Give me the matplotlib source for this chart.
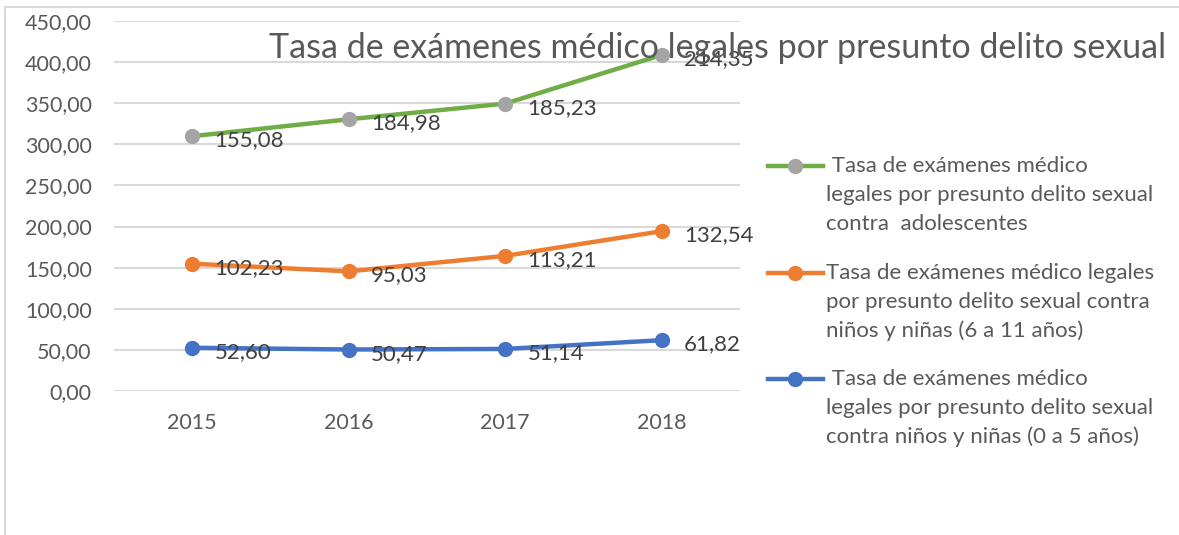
import matplotlib.pyplot as plt
from matplotlib.lines import Line2D
from matplotlib.patches import Rectangle
import numpy as np

plt.rcParams['font.family'] = ['Lato', 'DejaVu Sans']

years = ['2015', '2016', '2017', '2018']
ninos_0_5 = [52.60, 50.47, 51.14, 61.82]
ninos_6_11 = [102.23, 95.03, 113.21, 132.54]
adolescentes = [155.08, 184.98, 185.23, 214.35]

title = 'Tasa de exámenes médico legales por presunto delito sexual'
legend_labels = [
    [' Tasa de exámenes médico', 'legales por presunto delito sexual', 'contra  adolescentes'],
    ['Tasa de exámenes médico legales', 'por presunto delito sexual contra', 'niños y niñas (6 a 11 años)'],
    [' Tasa de exámenes médico', 'legales por presunto delito sexual', 'contra niños y niñas (0 a 5 años)'],
]

W, H = 1179, 535
fig = plt.figure(figsize=(W / 100, H / 100), dpi=100)

# chart frame (Excel style, right/bottom cut off)
fig.add_artist(Rectangle((5 / W, -0.1), 1.2, 1 - 7 / H + 0.1, transform=fig.transFigure,
                         fill=False, edgecolor='#D9D9D9', lw=1.5))

ax = fig.add_axes([114 / W, 1 - 391 / H, (740 - 114) / W, (391 - 21) / H])

# stacked line chart: each series is drawn on top of the previous ones
x = np.arange(len(years))
blue = np.array(ninos_0_5)
orange = blue + np.array(ninos_6_11)
green = orange + np.array(adolescentes)

series = [
    (blue, ninos_0_5, '#4472C4', '#4472C4'),
    (orange, ninos_6_11, '#ED7D31', '#ED7D31'),
    (green, adolescentes, '#70AD47', '#A5A5A5'),
]
for ypos, vals, col, mcol in series:
    ax.plot(x, ypos, color=col, lw=3.2, marker='o', ms=10,
            markerfacecolor=mcol, markeredgecolor=mcol, zorder=3)
    for xi, yi, v in zip(x, ypos, vals):
        ax.annotate(f'{v:.2f}'.replace('.', ','), (xi, yi), xytext=(16, -3),
                    textcoords='offset points', ha='left', va='center',
                    fontsize=16, color='#404040', zorder=4)

ax.set_xlim(-0.5, 3.5)
ax.set_ylim(0, 450)
ax.set_yticks(np.arange(0, 451, 50))
ax.set_yticklabels([f'{v:.2f}'.replace('.', ',') for v in np.arange(0, 451, 50)])
ax.set_xticks(x)
ax.set_xticklabels(years)
ax.grid(axis='y', color='#D9D9D9', lw=1.5)
ax.set_axisbelow(True)
for s in ax.spines.values():
    s.set_visible(False)
ax.tick_params(axis='both', length=0, labelsize=15.5, labelcolor='#595959')
ax.tick_params(axis='y', pad=16)
ax.tick_params(axis='x', pad=16)

fig.text(718 / W, 1 - 48 / H, title, ha='center', va='center', fontsize=24.5, color='#595959')

# legend drawn by hand to match Excel layout
leg_colors = [('#70AD47', '#A5A5A5'), ('#ED7D31', '#ED7D31'), ('#4472C4', '#4472C4')]
leg_top = [166, 273, 379]
for (col, mcol), top, lines in zip(leg_colors, leg_top, legend_labels):
    yf = 1 - top / H
    fig.add_artist(Line2D([768 / W, 823 / W], [yf, yf], transform=fig.transFigure,
                          color=col, lw=3.2))
    fig.add_artist(Line2D([795 / W], [yf], transform=fig.transFigure, marker='o', ms=10,
                          color=mcol, lw=0))
    for i, line in enumerate(lines):
        fig.text(826 / W, 1 - (top + 29 * i) / H, line, ha='left', va='center',
                 fontsize=16, color='#595959')

fig.savefig('out.png', dpi=100)
